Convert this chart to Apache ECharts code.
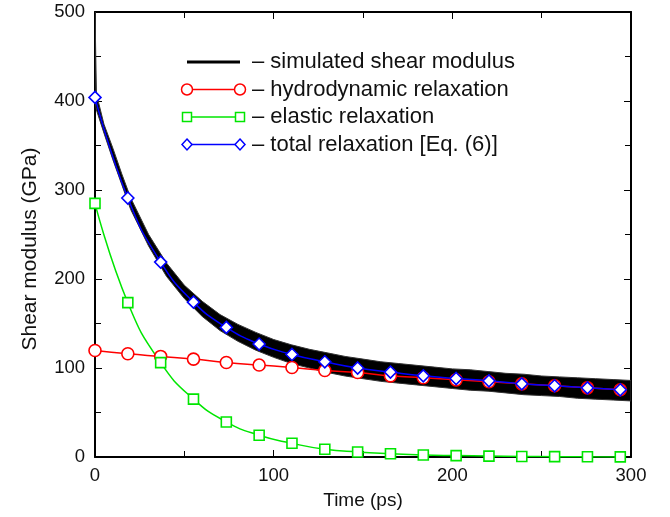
<!DOCTYPE html>
<html><head><meta charset="utf-8">
<script src="https://cdn.jsdelivr.net/npm/echarts@6/dist/echarts.min.js"></script>
<style>html,body{margin:0;padding:0;background:#fff}#c{width:670px;height:517px}</style>
</head><body><div id="c"></div>
<script>
// Marker times (ps)
const markTimes = [0, 18.375, 36.75, 55.125, 73.5, 91.875, 110.25, 128.625, 147, 165.375, 183.75, 202.125, 220.5, 238.875, 257.25, 275.625, 294];
// hydrodynamic relaxation (GPa)
const hydro = [119.7, 116, 113, 110, 106.2, 103.3, 100.6, 97.2, 95, 91.2, 89, 86.7, 84.5, 82.2, 80, 77.7, 75.5];
// elastic relaxation (GPa)
const elastic = [285, 173.4, 106, 65, 39.4, 24.4, 15.4, 8.7, 5.6, 3.7, 2.3, 1.6, 1.0, 0.6, 0.4, 0.2, 0.1];
// total relaxation (GPa)
const total = [404, 291, 219, 174, 145.6, 126.9, 115.2, 107, 100, 95.4, 91.2, 88.2, 85.6, 82.2, 80, 77.7, 75.5];
// simulated shear modulus: noisy band envelope
const simTime = [0, 0.8, 5, 10, 15, 20, 30, 40, 50, 60, 70, 80, 90, 100, 110, 120, 130, 140, 150, 160, 170, 180, 190, 200, 210, 220, 230, 240, 250, 260, 270, 280, 290, 300];
const simLow  = [400, 390, 364, 334, 306, 278, 237, 203, 178, 158, 142, 130, 120, 112, 105, 100, 95, 91, 88, 85, 83, 81, 79, 77, 75, 74, 72, 70, 69, 68, 66, 65, 64, 63];
const simHigh = [500, 408, 374, 347, 318, 291, 250, 218, 193, 175, 160, 149, 140, 132, 126, 121, 117, 113, 110, 107, 105, 103, 101, 99, 98, 96, 94, 93, 91, 90, 89, 88, 87, 86];

const xTicks = [0, 100, 200, 300];
const yTicks = [0, 100, 200, 300, 400, 500];

const legendItems = [
  {label: '– simulated shear modulus', color: '#000000', symbol: null},
  {label: '– hydrodynamic relaxation', color: '#ff0000', symbol: 'circle'},
  {label: '– elastic relaxation', color: '#00e600', symbol: 'rect'},
  {label: '– total relaxation [Eq. (6)]', color: '#0000ff', symbol: 'diamond'}
];

const pair = (xs, ys) => xs.map((x, i) => [x, ys[i]]);
const FONT = 'Liberation Sans, Arial, Helvetica, sans-serif';

const chart = echarts.init(document.getElementById('c'), null, {renderer: 'canvas'});

const axisCommon = {
  axisLine: {show: true, onZero: false, lineStyle: {color: '#000', width: 2}},
  axisTick: {show: true, inside: true, length: 7, lineStyle: {color: '#000', width: 1}},
  minorTick: {show: true, splitNumber: 2, length: 6, lineStyle: {color: '#000', width: 1}},
  splitLine: {show: false}
};

// legend + y title graphics
const graphics = [];
const lx0 = 187, lx1 = 240, ly0 = 62, lgap = 27.5, tx = 252;
legendItems.forEach((it, i) => {
  const y = ly0 + i * lgap;
  graphics.push({type: 'line', shape: {x1: lx0, y1: y, x2: lx1, y2: y},
    style: {stroke: it.color, lineWidth: it.symbol ? 1.3 : 3}});
  if (it.symbol === 'circle') {
    [lx0, lx1].forEach(x => graphics.push({type: 'circle', shape: {cx: x, cy: y, r: 5.5},
      style: {fill: '#fff', stroke: it.color, lineWidth: 1.5}}));
  } else if (it.symbol === 'rect') {
    [lx0, lx1].forEach(x => graphics.push({type: 'rect', shape: {x: x - 4.5, y: y - 4.5, width: 9, height: 9},
      style: {fill: '#fff', stroke: it.color, lineWidth: 1.5}}));
  } else if (it.symbol === 'diamond') {
    [lx0, lx1].forEach(x => graphics.push({type: 'polygon', shape: {points: [[x, y - 5.5], [x + 5, y], [x, y + 5.5], [x - 5, y]]},
      style: {fill: '#fff', stroke: it.color, lineWidth: 1.5}}));
  }
  graphics.push({type: 'text', x: tx, y: y, style: {text: it.label, fill: '#111', font: '22px ' + FONT, verticalAlign: 'middle', align: 'left'}});
});
graphics.push({type: 'text', x: 30, y: 249, rotation: Math.PI / 2,
  style: {text: 'Shear modulus (GPa)', fill: '#111', font: '21px ' + FONT, align: 'center', verticalAlign: 'middle'}});

const markerSeries = (name, data, color, symbol, size) => ({
  name, type: 'line', data: pair(markTimes, data),
  smooth: 0.5,
  symbol, symbolSize: size, showSymbol: true,
  lineStyle: {color, width: 1.5},
  itemStyle: {color: '#fff', borderColor: color, borderWidth: 1.6},
  z: 3
});

chart.setOption({
  animation: false,
  backgroundColor: '#fff',
  textStyle: {fontFamily: FONT},
  grid: {left: 95, right: 39, top: 12, bottom: 60},
  xAxis: [
    Object.assign({type: 'value', min: 0, max: 300, interval: 100, position: 'bottom',
      name: 'Time (ps)', nameLocation: 'middle', nameGap: 34,
      nameTextStyle: {fontSize: 19, color: '#111', fontFamily: FONT},
      axisLabel: {fontSize: 18.5, color: '#111', margin: 9, fontFamily: FONT,
        formatter: v => xTicks.includes(v) ? String(v) : ''}}, axisCommon),
    Object.assign({type: 'value', min: 0, max: 300, interval: 100, position: 'top',
      axisLabel: {show: false}}, axisCommon)
  ],
  yAxis: [
    Object.assign({type: 'value', min: 0, max: 500, interval: 100, position: 'left',
      axisLabel: {fontSize: 18.5, color: '#111', margin: 10, fontFamily: FONT,
        formatter: v => yTicks.includes(v) ? String(v) : ''}}, axisCommon),
    Object.assign({type: 'value', min: 0, max: 500, interval: 100, position: 'right',
      axisLabel: {show: false}}, axisCommon)
  ],
  graphic: graphics,
  series: [
    {name: 'simulated shear modulus', type: 'custom', xAxisIndex: 0, yAxisIndex: 0,
      data: [[0, 0]], z: 1, clip: true,
      renderItem: (params, api) => {
        const up = simTime.map((t, i) => api.coord([t, simHigh[i]]));
        const lo = simTime.map((t, i) => api.coord([t, simLow[i]])).reverse();
        return {type: 'polygon', shape: {points: up.concat(lo)},
          style: {fill: '#000', stroke: '#333', lineWidth: 1}};
      }},
    markerSeries('hydrodynamic relaxation', hydro, '#ff0000', 'circle', 12),
    markerSeries('elastic relaxation', elastic, '#00e600', 'rect', 10),
    markerSeries('total relaxation [Eq. (6)]', total, '#0000ff', 'diamond', 12)
  ]
});
</script></body></html>
